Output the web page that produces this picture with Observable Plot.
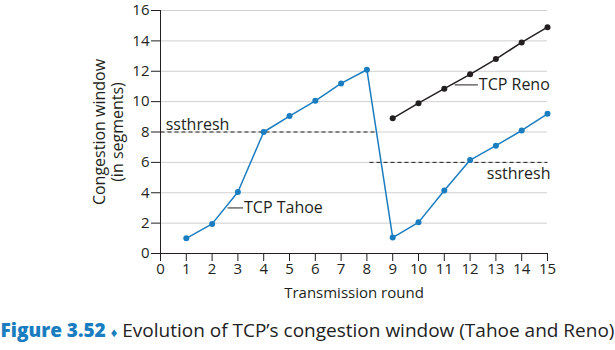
<!DOCTYPE html>
<html><head><meta charset="utf-8">
<script src="https://cdn.jsdelivr.net/npm/d3@7"></script>
<script src="https://cdn.jsdelivr.net/npm/@observablehq/plot@0.6"></script>
<style>
body{margin:0;background:#fff;font-family:"Open Sans",sans-serif;}
#cap{position:absolute;left:0;top:317px;width:615px;text-align:center;font-family:"Open Sans",sans-serif;font-size:19px;color:#222;white-space:nowrap;letter-spacing:0px;}
#cap b{color:#1a7dc0;font-weight:800;}
#cap .d{color:#1a7dc0;font-size:13px;}
</style></head><body>
<div id="chart"></div>
<div id="cap"><b>Figure 3.52</b> <span class="d">♦</span> Evolution of TCP’s congestion window (Tahoe and Reno)</div>
<script>
const tahoeRounds = [1,2,3,4,5,6,7,8,9,10,11,12,13,14,15];
const tahoeWindow = [1,1.95,4.05,8,9.05,10.05,11.2,12.1,1.05,2.05,4.15,6.15,7.1,8.1,9.2];
const renoRounds = [9,10,11,12,13,14,15];
const renoWindow = [8.9,9.9,10.85,11.8,12.8,13.9,14.9];
const ssthreshLines = [{x1:0,x2:8.3,y:8},{x1:8.1,x2:15,y:6}];
const ssthreshLabels = [{x:0.2,y:8,text:"ssthresh",va:"bottom"},{x:15,y:6,text:"ssthresh",va:"top"}];
const seriesLabels = [{x1:2.6,x2:3.2,y:3,text:"TCP Tahoe"},{x1:11.4,x2:12.3,y:11.1,text:"TCP Reno"}];
const xTicks = d3.range(0,16);
const yTicks = d3.range(0,17,2);

const tahoe = tahoeRounds.map((r,i)=>({r,w:tahoeWindow[i]}));
const reno = renoRounds.map((r,i)=>({r,w:renoWindow[i]}));
const blue = "#1a7dc0", black = "#231f20";

const chart = Plot.plot({
  width:615, height:305,
  marginLeft:160, marginRight:68, marginTop:10, marginBottom:52,
  style:{fontFamily:"Open Sans, sans-serif", fontSize:"15px", color:"#231f20", background:"#fff"},
  x:{domain:[0,15]},
  y:{domain:[0,16]},
  marks:[
    Plot.gridY(yTicks.filter(d=>d>0),{stroke:"#d0d0d0",strokeOpacity:1}),
    Plot.axisY(yTicks,{tickSize:9,tickPadding:2,label:null,fontSize:15}),
    Plot.axisX(xTicks,{tickSize:8,tickPadding:2,label:"Transmission round",labelAnchor:"center",labelArrow:"none",labelOffset:44,fontSize:15}),
    Plot.text(["Congestion window\n(in segments)"],{frameAnchor:"left",textAnchor:"middle",rotate:-90,dx:-52,fontSize:16,lineHeight:1.1}),
    Plot.ruleX([0],{stroke:black}),
    Plot.ruleY([0],{stroke:black}),
    Plot.link(ssthreshLines,{x1:"x1",x2:"x2",y1:"y",y2:"y",stroke:black,strokeDasharray:"4,3",strokeWidth:1}),
    Plot.text(ssthreshLabels.filter(d=>d.va==="bottom"),{x:"x",y:"y",text:"text",textAnchor:"start",lineAnchor:"bottom",dy:-2,fontSize:16}),
    Plot.text(ssthreshLabels.filter(d=>d.va==="top"),{x:"x",y:"y",text:"text",textAnchor:"end",lineAnchor:"top",dy:5,dx:3,fontSize:16}),
    Plot.link(seriesLabels,{x1:"x1",x2:"x2",y1:"y",y2:"y",stroke:black,strokeWidth:1}),
    Plot.text(seriesLabels,{x:"x2",y:"y",text:"text",textAnchor:"start",dx:1,fontSize:16}),
    Plot.line(tahoe,{x:"r",y:"w",stroke:blue,strokeWidth:1.5}),
    Plot.dot(tahoe,{x:"r",y:"w",fill:blue,r:3}),
    Plot.line(reno,{x:"r",y:"w",stroke:black,strokeWidth:1.5}),
    Plot.dot(reno,{x:"r",y:"w",fill:black,r:3})
  ]
});
document.getElementById("chart").appendChild(chart);
</script>
</body></html>
